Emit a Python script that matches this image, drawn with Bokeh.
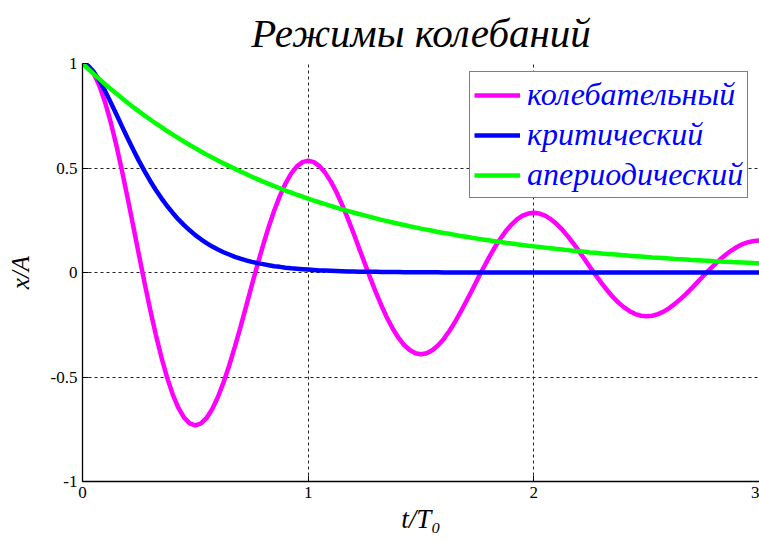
from bokeh.plotting import figure
from bokeh.models import FixedTicker, Range1d
from bokeh.embed import file_html
from bokeh.resources import INLINE

# time in units of the natural period T0
t = [0.000, 0.025, 0.050, 0.075, 0.100, 0.125, 0.150, 0.175, 0.200, 0.225,
     0.250, 0.275, 0.300, 0.325, 0.350, 0.375, 0.400, 0.425, 0.450, 0.475,
     0.500, 0.525, 0.550, 0.575, 0.600, 0.625, 0.650, 0.675, 0.700, 0.725,
     0.750, 0.775, 0.800, 0.825, 0.850, 0.875, 0.900, 0.925, 0.950, 0.975,
     1.000, 1.025, 1.050, 1.075, 1.100, 1.125, 1.150, 1.175, 1.200, 1.225,
     1.250, 1.275, 1.300, 1.325, 1.350, 1.375, 1.400, 1.425, 1.450, 1.475,
     1.500, 1.525, 1.550, 1.575, 1.600, 1.625, 1.650, 1.675, 1.700, 1.725,
     1.750, 1.775, 1.800, 1.825, 1.850, 1.875, 1.900, 1.925, 1.950, 1.975,
     2.000, 2.025, 2.050, 2.075, 2.100, 2.125, 2.150, 2.175, 2.200, 2.225,
     2.250, 2.275, 2.300, 2.325, 2.350, 2.375, 2.400, 2.425, 2.450, 2.475,
     2.500, 2.525, 2.550, 2.575, 2.600, 2.625, 2.650, 2.675, 2.700, 2.725,
     2.750, 2.775, 2.800, 2.825, 2.850, 2.875, 2.900, 2.925, 2.950, 2.975,
     3.000]

# x/A, oscillatory (underdamped) regime
oscillatory = [1.000, 0.988, 0.952, 0.893, 0.815, 0.719, 0.609, 0.487, 0.356, 0.221,
               0.085, -0.049, -0.178, -0.298, -0.407, -0.503, -0.584, -0.648, -0.694, -0.722,
               -0.731, -0.722, -0.696, -0.653, -0.596, -0.526, -0.445, -0.356, -0.261, -0.162,
               -0.062, 0.036, 0.130, 0.218, 0.298, 0.368, 0.427, 0.474, 0.508, 0.528,
               0.535, 0.528, 0.509, 0.478, 0.436, 0.385, 0.325, 0.260, 0.191, 0.118,
               0.046, -0.026, -0.095, -0.159, -0.218, -0.269, -0.312, -0.347, -0.371, -0.386,
               -0.391, -0.386, -0.372, -0.349, -0.319, -0.281, -0.238, -0.190, -0.139, -0.087,
               -0.033, 0.019, 0.069, 0.117, 0.159, 0.197, 0.228, 0.254, 0.272, 0.282,
               0.286, 0.282, 0.272, 0.255, 0.233, 0.206, 0.174, 0.139, 0.102, 0.063,
               0.024, -0.014, -0.051, -0.085, -0.117, -0.144, -0.167, -0.185, -0.199, -0.207,
               -0.209, -0.207, -0.199, -0.187, -0.170, -0.150, -0.127, -0.102, -0.075, -0.046,
               -0.018, 0.010, 0.037, 0.062, 0.085, 0.105, 0.122, 0.136, 0.145, 0.151,
               0.153]

# x/A, critical damping
critical = [1.000, 0.989, 0.960, 0.918, 0.869, 0.814, 0.757, 0.699, 0.642, 0.587,
            0.534, 0.485, 0.438, 0.395, 0.355, 0.318, 0.285, 0.254, 0.227, 0.202,
            0.179, 0.159, 0.141, 0.124, 0.110, 0.097, 0.086, 0.075, 0.066, 0.058,
            0.051, 0.045, 0.040, 0.035, 0.030, 0.027, 0.023, 0.020, 0.018, 0.016,
            0.014, 0.012, 0.010, 0.009, 0.008, 0.007, 0.006, 0.005, 0.005, 0.004,
            0.003, 0.003, 0.003, 0.002, 0.002, 0.002, 0.002, 0.001, 0.001, 0.001,
            0.001, 0.001, 0.001, 0.001, 0.000, 0.000, 0.000, 0.000, 0.000, 0.000,
            0.000, 0.000, 0.000, 0.000, 0.000, 0.000, 0.000, 0.000, 0.000, 0.000,
            0.000, 0.000, 0.000, 0.000, 0.000, 0.000, 0.000, 0.000, 0.000, 0.000,
            0.000, 0.000, 0.000, 0.000, 0.000, 0.000, 0.000, 0.000, 0.000, 0.000,
            0.000, 0.000, 0.000, 0.000, 0.000, 0.000, 0.000, 0.000, 0.000, 0.000,
            0.000, 0.000, 0.000, 0.000, 0.000, 0.000, 0.000, 0.000, 0.000, 0.000,
            0.000]

# x/A, aperiodic (overdamped) regime
aperiodic = [1.000, 0.974, 0.949, 0.925, 0.901, 0.878, 0.856, 0.834, 0.812, 0.791,
             0.771, 0.751, 0.732, 0.713, 0.695, 0.677, 0.660, 0.643, 0.626, 0.610,
             0.595, 0.579, 0.564, 0.550, 0.536, 0.522, 0.509, 0.496, 0.483, 0.471,
             0.458, 0.447, 0.435, 0.424, 0.413, 0.403, 0.392, 0.382, 0.372, 0.363,
             0.353, 0.344, 0.336, 0.327, 0.319, 0.310, 0.302, 0.295, 0.287, 0.280,
             0.273, 0.266, 0.259, 0.252, 0.246, 0.239, 0.233, 0.227, 0.221, 0.216,
             0.210, 0.205, 0.200, 0.194, 0.189, 0.185, 0.180, 0.175, 0.171, 0.166,
             0.162, 0.158, 0.154, 0.150, 0.146, 0.142, 0.139, 0.135, 0.132, 0.128,
             0.125, 0.122, 0.119, 0.116, 0.113, 0.110, 0.107, 0.104, 0.102, 0.099,
             0.096, 0.094, 0.091, 0.089, 0.087, 0.085, 0.082, 0.080, 0.078, 0.076,
             0.074, 0.072, 0.071, 0.069, 0.067, 0.065, 0.064, 0.062, 0.060, 0.059,
             0.057, 0.056, 0.054, 0.053, 0.052, 0.050, 0.049, 0.048, 0.047, 0.045,
             0.044]

series_names = ["колебательный", "критический", "апериодический"]
series_colors = ["#FF00FF", "#0000FF", "#00FF00"]

x_ticks = [0, 1, 2, 3]
x_tick_labels = ["0", "1", "2", "3"]
y_ticks = [-1, -0.5, 0, 0.5, 1]
y_tick_labels = ["-1", "-0.5", "0", "0.5", "1"]

SERIF = "Liberation Serif, Times New Roman, serif"

p = figure(width=759, height=542, output_backend="svg", toolbar_location=None,
           x_range=Range1d(0, 3), y_range=Range1d(-1, 1),
           min_border_left=82, min_border_right=0,
           min_border_top=63, min_border_bottom=61)
p.outline_line_color = None
p.background_fill_color = "white"
p.border_fill_color = "white"

for ys, name, color in zip([oscillatory, critical, aperiodic], series_names, series_colors):
    p.line(t, ys, line_color=color, line_width=4.5, legend_label=name)

# title
p.title.text = "Режимы колебаний"
p.title.align = "center"
p.title.text_font = SERIF
p.title.text_font_style = "italic"
p.title.text_font_size = "41px"
p.title.text_color = "black"
p.title.standoff = 15

# axes
p.xaxis.ticker = FixedTicker(ticks=x_ticks)
p.yaxis.ticker = FixedTicker(ticks=y_ticks)
p.xaxis.major_label_overrides = dict(zip(x_ticks, x_tick_labels))
p.yaxis.major_label_overrides = dict(zip(y_ticks, y_tick_labels))
for ax in (p.xaxis, p.yaxis):
    ax.axis_line_color = "black"
    ax.axis_line_width = 1.3
    ax.major_tick_in = 6
    ax.major_tick_out = 0
    ax.major_tick_line_color = "black"
    ax.minor_tick_line_color = None
    ax.major_label_text_font = SERIF
    ax.major_label_text_font_size = "17px"
    ax.major_label_text_color = "black"
    ax.major_label_standoff = 5
    ax.axis_label_text_font = SERIF
    ax.axis_label_text_font_style = "italic"
    ax.axis_label_text_color = "black"

p.yaxis.axis_label = "x/A"
p.yaxis.axis_label_text_font_size = "25px"
p.yaxis.axis_label_standoff = 14

p.xaxis.axis_label = "t/T₀"
p.xaxis.axis_label_text_font_size = "27px"
p.xaxis.axis_label_standoff = 3

# dashed grid
for g in (p.xgrid, p.ygrid):
    g.grid_line_color = "#222222"
    g.grid_line_dash = "3 3"
    g.grid_line_width = 1

# legend
lg = p.legend[0]
lg.location = (387, 283)
lg.border_line_color = "black"
lg.border_line_width = 1
lg.background_fill_color = "white"
lg.background_fill_alpha = 1
lg.label_text_font = SERIF
lg.label_text_font_style = "italic"
lg.label_text_font_size = "32px"
lg.label_text_color = "#0000FF"
lg.glyph_width = 46
lg.glyph_height = 30
lg.label_height = 30
lg.label_standoff = 7
lg.spacing = 3
lg.padding = 4
lg.margin = 0

open("out.html", "w").write(file_html(p, INLINE))
